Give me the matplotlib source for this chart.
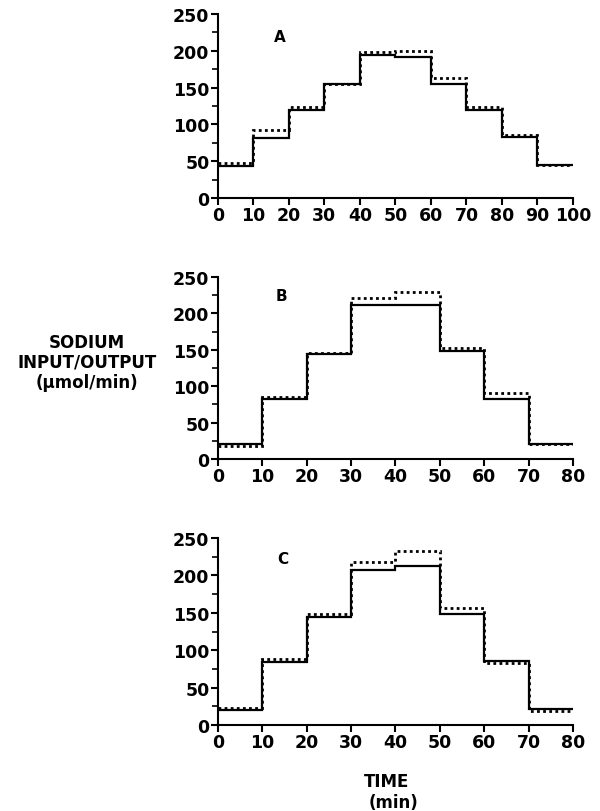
import numpy as np
import matplotlib
matplotlib.use('Agg')
import matplotlib.pyplot as plt
from matplotlib.ticker import MultipleLocator

# step edges (min)
edges_a = [0, 10, 20, 30, 40, 50, 60, 70, 80, 90, 100]
edges_bc = [0, 10, 20, 30, 40, 50, 60, 70, 80]

# sodium input (solid) / output (dotted), umol/min
input_a = [44, 82, 119, 155, 194, 191, 155, 119, 83, 45]
output_a = [48, 92, 123, 155, 198, 200, 163, 124, 85, 45]

input_b = [20, 82, 144, 212, 212, 149, 83, 21]
output_b = [18, 85, 146, 221, 230, 153, 90, 20]

input_c = [20, 84, 144, 207, 212, 148, 85, 21]
output_c = [23, 88, 148, 218, 233, 157, 83, 19]

panels = [
    ('A', edges_a, input_a, output_a, 100, (17.5, 220)),
    ('B', edges_bc, input_b, output_b, 80, (14.4, 224)),
    ('C', edges_bc, input_c, output_c, 80, (14.6, 222)),
]

plt.rcParams['font.family'] = 'DejaVu Sans'
plt.rcParams['font.weight'] = 'bold'

fig = plt.figure(figsize=(6, 8.12), dpi=100)
boxes = [
    [0.363, 0.755, 0.592, 0.2266],
    [0.363, 0.4335, 0.592, 0.2241],
    [0.363, 0.1059, 0.592, 0.2303],
]

for (label, edges, inp, outp, xmax, lpos), box in zip(panels, boxes):
    ax = fig.add_axes(box)
    ax.stairs(outp, edges, baseline=None, color='black', linestyle=(0, (1, 1.2)), linewidth=2.0)
    ax.stairs(inp, edges, baseline=None, color='black', linewidth=1.6)
    ax.set_xlim(0, xmax)
    ax.set_ylim(0, 250)
    ax.xaxis.set_major_locator(MultipleLocator(10))
    ax.yaxis.set_major_locator(MultipleLocator(50))
    ax.yaxis.set_minor_locator(MultipleLocator(25))
    ax.spines['top'].set_visible(False)
    ax.spines['right'].set_visible(False)
    ax.spines['left'].set_linewidth(1.5)
    ax.spines['bottom'].set_linewidth(1.5)
    ax.tick_params(axis='both', which='major', labelsize=12.5, width=1.5, length=5, pad=1)
    ax.tick_params(axis='y', which='minor', width=1.2, length=4)
    for t in ax.get_xticklabels() + ax.get_yticklabels():
        t.set_fontweight('bold')
    ax.text(lpos[0], lpos[1], label, fontsize=11, fontweight='bold', ha='center', va='center')

fig.text(0.145, 0.553, 'SODIUM\nINPUT/OUTPUT\n(µmol/min)', fontsize=12, fontweight='bold',
         ha='center', va='center', linespacing=1.15)
fig.text(0.645, 0.037, 'TIME', fontsize=12, fontweight='bold', ha='center', va='center')
fig.text(0.655, 0.011, '(min)', fontsize=12, fontweight='bold', ha='center', va='center')

fig.savefig('out.png', dpi=100)
